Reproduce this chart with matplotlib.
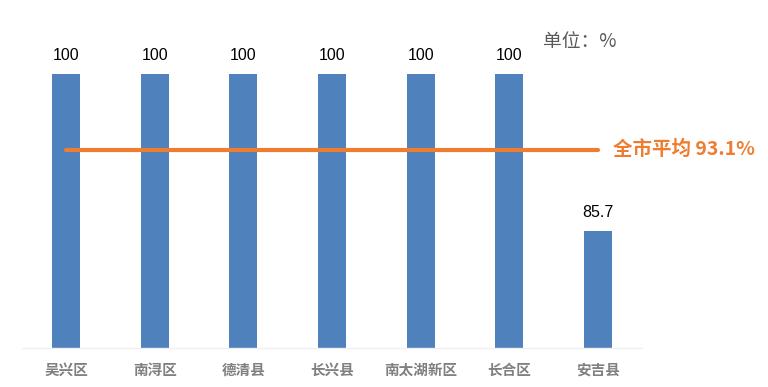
import matplotlib
matplotlib.use('Agg')
import matplotlib.pyplot as plt

plt.rcParams['font.family'] = ['Noto Sans CJK SC', 'DejaVu Sans']

# data
districts = ['吴兴区', '南浔区', '德清县', '长兴县', '南太湖新区', '长合区', '安吉县']
rates = [100, 100, 100, 100, 100, 100, 85.7]
rate_labels = ['100', '100', '100', '100', '100', '100', '85.7']
city_avg = 93.1

fig = plt.figure(figsize=(7.68, 3.87), dpi=100)
ax = fig.add_axes([22 / 768, 1 - 348 / 387, 620 / 768, 329 / 387])

x = range(len(districts))
ax.bar(x, rates, width=0.316, color='#4F81BD', zorder=2)
ax.set_xlim(-0.5, len(districts) - 0.5)
ax.set_ylim(75, 105)

# value labels above bars
for xi, v, lab in zip(x, rates, rate_labels):
    ax.annotate(lab, (xi, v), xytext=(0, 7.5), textcoords='offset points',
                ha='center', va='bottom', fontsize=11.5,
                family=['Liberation Sans', 'DejaVu Sans'], color='#000000')

# average line from first to last bar centre
ax.plot([0, len(districts) - 1], [city_avg, city_avg], color='#ED7D31',
        linewidth=3, solid_capstyle='round', zorder=3)
ax.annotate(f'全市平均 {city_avg}%', (len(districts) - 1, city_avg),
            xytext=(11, 0), textcoords='offset points', ha='left', va='center',
            fontsize=14, fontweight='bold', color='#ED7D31', annotation_clip=False)

ax.set_xticks(list(x))
ax.set_xticklabels(districts, fontsize=10.5, fontweight='bold', color='#808080')
ax.tick_params(axis='x', length=0, pad=10)
ax.set_yticks([])
for side in ['left', 'right', 'top']:
    ax.spines[side].set_visible(False)
ax.spines['bottom'].set_color('#F0F0F0')
ax.spines['bottom'].set_linewidth(1)

fig.text(543 / 768, 1 - 42 / 387, '单位：%', ha='left', va='center',
         fontsize=13.5, color='#595959')

fig.savefig('out.png', dpi=100)
